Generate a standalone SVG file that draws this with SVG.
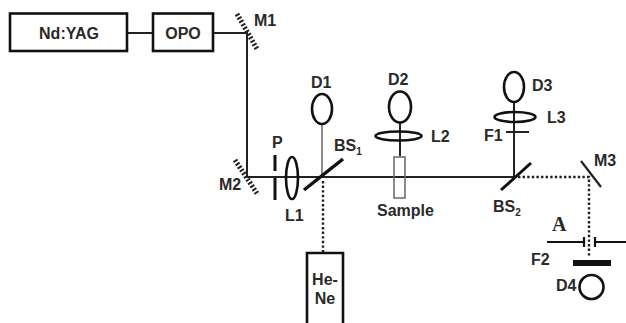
<svg xmlns="http://www.w3.org/2000/svg" width="626" height="323" viewBox="0 0 626 323">
<style>
text{font-family:"Liberation Sans",Arial,sans-serif;font-weight:bold;font-size:16px;fill:#2a2a2a}
.box{fill:#fff;stroke:#111;stroke-width:2.6}
.ln{fill:none;stroke:#222;stroke-width:2}
.thin{fill:none;stroke:#444;stroke-width:1.2}
.dot{fill:none;stroke:#222;stroke-width:2.4;stroke-dasharray:2.4 2.2}
.hatch{fill:none;stroke:#222;stroke-width:5;stroke-dasharray:2 1.8}
.det{fill:#fff;stroke:#111;stroke-width:2.6}
.lens{fill:none;stroke:#111;stroke-width:2.6}
.sub{font-size:10px}
</style>
<rect width="626" height="323" fill="#fff"/>
<g id="connectors">
<path class="ln" d="M127 33H153"/>
<path class="ln" d="M213 33H247V177H514"/>
<path class="thin" d="M322 124V177"/>
<path class="ln" d="M400 122V156"/>
<path class="ln" d="M514 101V177"/>
<path class="dot" d="M323 181V253"/>
<path class="dot" d="M518 177H589V257"/>
</g>
<g id="nd-yag"><rect class="box" x="10" y="13.500" width="117" height="37.500"/><text x="69" y="39" text-anchor="middle">Nd:YAG</text></g>
<g id="opo"><rect class="box" x="153" y="13.500" width="60" height="37.500"/><text x="183" y="39" text-anchor="middle">OPO</text></g>
<g id="m1"><path class="hatch" d="M237 14L257 49"/><text x="254" y="26">M1</text></g>
<g id="m2"><path class="hatch" d="M235 160L258 195"/><text x="219" y="190">M2</text></g>
<g id="p"><path d="M275 155V171M275 178V200" stroke="#111" stroke-width="3"/><text x="272" y="148">P</text></g>
<g id="l1"><ellipse class="lens" cx="292" cy="178" rx="6" ry="21"/><text x="285" y="221">L1</text></g>
<g id="bs1"><path d="M304 190L343 159" stroke="#111" stroke-width="3.500"/><text x="334" y="151">BS<tspan class="sub" dy="4">1</tspan></text></g>
<g id="d1"><ellipse class="det" cx="322" cy="109" rx="10" ry="15"/><text x="311" y="88">D1</text></g>
<g id="d2"><ellipse class="det" cx="400" cy="107" rx="11" ry="15.500"/><text x="388" y="85">D2</text></g>
<g id="l2"><ellipse class="lens" cx="398.500" cy="136" rx="23" ry="4.500"/><text x="431" y="142">L2</text></g>
<g id="sample"><rect x="394" y="157" width="11" height="41" fill="none" stroke="#666" stroke-width="1.500"/><text x="377" y="216">Sample</text></g>
<g id="d3"><ellipse class="det" cx="514" cy="87" rx="10" ry="15"/><text x="532" y="91">D3</text></g>
<g id="l3"><ellipse class="lens" cx="515" cy="117" rx="20.500" ry="5"/><text x="547" y="123">L3</text></g>
<g id="f1"><path d="M506 132H529" stroke="#222" stroke-width="2"/><text x="484" y="141">F1</text></g>
<g id="bs2"><path d="M501 190L531 163" stroke="#111" stroke-width="3"/><text x="493" y="212">BS<tspan class="sub" dy="4">2</tspan></text></g>
<g id="m3"><path d="M581 161L601 187" stroke="#222" stroke-width="2.200"/><text x="594" y="166">M3</text></g>
<g id="a"><path d="M547 242H584M584 237V247M595 237V247M595 242H626" stroke="#111" stroke-width="2.200" fill="none"/><text x="552" y="231" style="font-family:'Liberation Serif',serif;font-size:20px">A</text></g>
<g id="f2"><path d="M573 263H611" stroke="#111" stroke-width="6"/><text x="531" y="265">F2</text></g>
<g id="d4"><circle class="det" cx="591.500" cy="287" r="12"/><text x="556" y="291">D4</text></g>
<g id="he-ne"><path class="box" d="M307 323V253H343V323"/><text x="325" y="285" text-anchor="middle">He-</text><text x="325" y="304" text-anchor="middle">Ne</text></g>
</svg>
